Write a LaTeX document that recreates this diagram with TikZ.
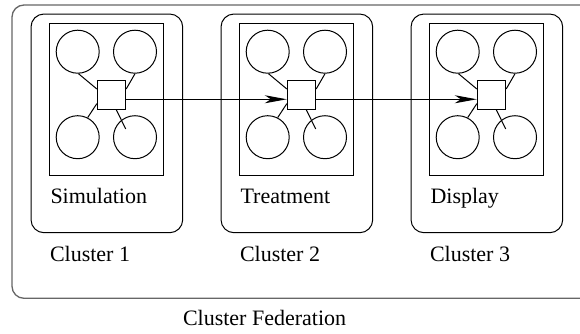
\documentclass[tikz,border=0pt]{standalone}
\usepackage{fontspec}
\setmainfont{Liberation Serif}
\usetikzlibrary{calc,arrows.meta}
\begin{document}
\begin{tikzpicture}[x=1pt,y=-1pt,line width=1pt,
  circ/.style={draw,circle,minimum size=43pt,inner sep=0pt},
  sq/.style={draw,minimum size=28.4pt,inner sep=0pt,fill=white},
  lbl/.style={anchor=base west,inner sep=0pt,font=\fontsize{22}{26}\selectfont},
  fedbox/.style={draw=black!60,line width=1.3pt,rounded corners=12pt},
  clbox/.style={draw,rounded corners=13pt,inner sep=0pt,minimum width=151.7pt,minimum height=218.7pt},
  inbox/.style={draw,inner sep=0pt,minimum width=114pt,minimum height=151.7pt},
  arr/.style={-{Stealth[length=22pt,width=8pt,inset=6pt]}}]
\clip (0,0) rectangle (580,333);
\node[fedbox,inner sep=0pt,minimum width=588pt,minimum height=293.3pt] (fed) at (306,151.65) {};
\foreach \i/\t/\c in {0/Simulation/1,1/Treatment/2,2/Display/3}{
  \begin{scope}[xshift={\i*190pt}]
    \node[clbox] (cl\c) at (106.85,123.35) {};
    \node[inbox] (in\c) at (106.3,99.15) {};
    \node[circ] (a\c) at (77.7,51.7) {};
    \node[circ] (b\c) at (135,51.7) {};
    \node[circ] (c\c) at (77.7,137.2) {};
    \node[circ] (d\c) at (135,137.2) {};
    \node[sq] (s\c) at (111.5,94.85) {};
    \coordinate (e\c) at (125.7,129);
    \draw (a\c.-88) -- ($(s\c.north west)!0.3!(s\c.south west)$);
    \draw (b\c.-90) -- ($(s\c.north east)!0.3!(s\c.south east)$);
    \draw (c\c.63) -- ($(s\c.north west)!0.8!(s\c.south west)$);
    \draw ($(s\c.south west)!0.66!(s\c.south east)$) -- (e\c);
    \node[lbl] (t\c) at (50,203) {\t};
    \node[lbl] (k\c) at (49.5,261) {Cluster \c};
  \end{scope}
}
\draw[arr] ($(s1.north east)!0.65!(s1.south east)$) -- ($(s2.north west)!0.65!(s2.south west)$);
\draw[arr] ($(s2.north east)!0.65!(s2.south east)$) -- ($(s3.north west)!0.65!(s3.south west)$);
\node[lbl] (fedl) at (182.5,325) {Cluster Federation};
\end{tikzpicture}
\end{document}
